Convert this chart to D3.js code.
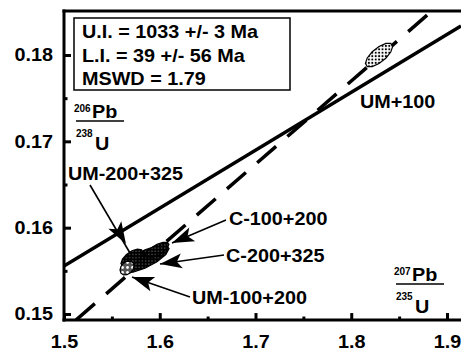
<!DOCTYPE html>
<html>
<head>
<meta charset="utf-8">
<script src="https://cdn.jsdelivr.net/npm/d3@7"></script>
<style>
  body { margin: 0; background: #fff; }
  text { font-family: "Liberation Sans", Arial, Helvetica, sans-serif; font-weight: bold; fill: #000; }
</style>
</head>
<body>
<div id="chart"></div>
<script>
// samples and their isotope ratios
const samples = ["UM+100", "UM-100+200", "UM-200+325", "C-200+325", "C-100+200"];
const pb207u235 = [1.829, 1.5658, 1.571, 1.5846, 1.5971];
const pb206u238 = [0.18, 0.15533, 0.15649, 0.15637, 0.15741];
// error ellipse half sizes and error correlation
const err207 = [0.0142, 0.0073, 0.0115, 0.0251, 0.0125];
const err206 = [0.00139, 0.00081, 0.00104, 0.00162, 0.00093];
const errRho = [0.7, 0.3, 0.6, 0.75, 0.7];

// regression line (solid) and concordia (dashed)
const discordiaX = [1.5, 1.9146];
const discordiaY = [0.15556, 0.18336];
const concordiaX = [1.5125, 1.8843];
const concordiaY = [0.1493, 0.1851];

const xTicks = [1.5, 1.6, 1.7, 1.8, 1.9];
const xMinorTicks = [1.55, 1.65, 1.75, 1.85];
const yTicks = [0.15, 0.16, 0.17, 0.18];
const yMinorTicks = [0.155, 0.165, 0.175];
const xDomain = [1.5, 1.9157];
const yDomain = [0.1493, 0.1851];

const statLines = ["U.I. = 1033 +/- 3 Ma", "L.I. = 39 +/- 56 Ma", "MSWD = 1.79"];

// label / arrow placement, pixel offsets from each ellipse centre
const annotations = {
  "UM+100": { text: [-19, 53] },
  "UM-100+200": { text: [65, 36], tail: [63, 29], tip: [5, 9] },
  "UM-200+325": { text: [-64, -78], tail: [-42, -73], tip: [-2, -5], head: [-6, -14] },
  "C-200+325": { text: [81, 3], tail: [79, -4], tip: [15, 5] },
  "C-100+200": { text: [72, -25], tail: [69, -30], tip: [15, -7] }
};
const fills = {
  "UM+100": "url(#stipple)",
  "UM-100+200": "url(#coarse)",
  "UM-200+325": "url(#dark)",
  "C-200+325": "url(#dark)",
  "C-100+200": "url(#dark)"
};
const drawOrder = [3, 4, 2, 1, 0];

const width = 461, height = 351;
const stretch = 1.1;

const x = d3.scaleLinear().domain([1.5, 1.9]).range([64, 447]);
const y = d3.scaleLinear().domain([0.15, 0.18]).range([314, 55]);

const svg = d3
  .select("#chart")
  .append("svg")
  .attr("width", width)
  .attr("height", height);

const defs = svg.append("defs");
defs
  .append("clipPath")
  .attr("id", "plotArea")
  .append("rect")
  .attr("x", x(xDomain[0]))
  .attr("y", y(yDomain[1]))
  .attr("width", x(xDomain[1]) - x(xDomain[0]))
  .attr("height", y(yDomain[0]) - y(yDomain[1]));

function pattern(id, size, bg, dot, r) {
  const p = defs
    .append("pattern")
    .attr("id", id)
    .attr("patternUnits", "userSpaceOnUse")
    .attr("width", size)
    .attr("height", size);
  p.append("rect").attr("width", size).attr("height", size).attr("fill", bg);
  p.append("circle").attr("cx", size / 2).attr("cy", size / 2).attr("r", r).attr("fill", dot);
  return p;
}
pattern("stipple", 3.4, "#fff", "#000", 1.05);
pattern("dark", 3.2, "#000", "#fff", 0.45);
pattern("coarse", 5, "#555", "#fff", 1.4);

function addText(sel, px, py, str, size, sx = stretch) {
  return sel
    .append("text")
    .attr("transform", `translate(${px},${py}) scale(${sx},1)`)
    .style("font-size", size + "px")
    .text(str);
}

// lines
const plot = svg.append("g").attr("clip-path", "url(#plotArea)");
const lineGen = d3.line().x((d) => x(d[0])).y((d) => y(d[1]));

plot
  .append("path")
  .datum(d3.zip(discordiaX, discordiaY))
  .attr("d", lineGen)
  .attr("fill", "none")
  .attr("stroke", "#000")
  .attr("stroke-width", 3.5);

plot
  .append("path")
  .datum(d3.zip(concordiaX, concordiaY))
  .attr("d", lineGen)
  .attr("fill", "none")
  .attr("stroke", "#000")
  .attr("stroke-width", 3.5)
  .attr("stroke-dasharray", "25,15");

// error ellipses
function ellipsePoints(i, n = 12) {
  const r = errRho[i];
  const s = Math.sqrt(1 - r * r);
  return d3.range(n).map((k) => {
    const t = (k / n) * 2 * Math.PI;
    return [
      pb207u235[i] + err207[i] * Math.cos(t),
      pb206u238[i] + err206[i] * (r * Math.cos(t) + s * Math.sin(t))
    ];
  });
}
const closedLine = d3.line().x((d) => x(d[0])).y((d) => y(d[1])).curve(d3.curveLinearClosed);

plot
  .selectAll(".ellipse")
  .data(drawOrder)
  .join("path")
  .attr("class", "ellipse")
  .attr("d", (i) => closedLine(ellipsePoints(i)))
  .attr("fill", (i) => fills[samples[i]])
  .attr("stroke", "#000")
  .attr("stroke-width", 1.2);

// axes frame
const frame = svg.append("g").attr("stroke", "#000").attr("stroke-width", 3);
const plotLeft = x(xDomain[0]), plotRight = x(xDomain[1]);
const plotTop = y(yDomain[1]), plotBottom = y(yDomain[0]);
frame.append("line").attr("x1", plotLeft).attr("x2", plotLeft).attr("y1", plotTop - 1.5).attr("y2", plotBottom + 1.5);
frame.append("line").attr("x1", plotLeft - 1.5).attr("x2", plotRight).attr("y1", plotBottom).attr("y2", plotBottom);
frame.append("line").attr("x1", plotLeft - 1.5).attr("x2", plotRight).attr("y1", plotTop).attr("y2", plotTop);

function styleAxis(g) {
  g.select(".domain").remove();
  g.selectAll(".tick line").attr("stroke", "#000").attr("stroke-width", 3);
  g.attr("font-size", null).attr("font-family", null);
}

const yAxis = svg
  .append("g")
  .attr("transform", `translate(${plotLeft},0)`)
  .call(d3.axisLeft(y).tickValues(yTicks).tickSize(-7).tickPadding(11).tickFormat(d3.format(".2f")))
  .call(styleAxis);
yAxis
  .selectAll(".tick text")
  .attr("x", null)
  .attr("transform", `translate(-11,0) scale(${stretch},1)`)
  .style("font-size", "18px");

svg
  .append("g")
  .attr("transform", `translate(${plotLeft},0)`)
  .call(d3.axisLeft(y).tickValues(yMinorTicks).tickSize(-3.5).tickFormat(""))
  .call(styleAxis);

const xAxis = svg
  .append("g")
  .attr("transform", `translate(0,${plotBottom})`)
  .call(d3.axisBottom(x).tickValues(xTicks).tickSize(-7).tickPadding(15).tickFormat(d3.format(".1f")))
  .call(styleAxis);
xAxis
  .selectAll(".tick text")
  .attr("y", null)
  .attr("transform", `translate(0,15) scale(${stretch},1)`)
  .style("font-size", "18px");

svg
  .append("g")
  .attr("transform", `translate(0,${plotBottom})`)
  .call(d3.axisBottom(x).tickValues(xMinorTicks).tickSize(-3.5).tickFormat(""))
  .call(styleAxis);

// statistics box
svg
  .append("rect")
  .attr("x", 74)
  .attr("y", 18)
  .attr("width", 216)
  .attr("height", 72)
  .attr("fill", "#fff")
  .attr("stroke", "#000")
  .attr("stroke-width", 1.5);
statLines.forEach((s, i) => addText(svg, 82, 38 + i * 23.5, s, 18));

// axis ratio titles
function ratioLabel(px, py, sup1, el1, sup2, el2) {
  const g = svg.append("g").attr("transform", `translate(${px},${py})`);
  addText(g, 0, -6, sup1, 10, 1);
  addText(g, 18, 0, el1, 18);
  g.append("line").attr("x1", 2).attr("x2", 50).attr("y1", 3).attr("y2", 3)
    .attr("stroke", "#000").attr("stroke-width", 1.6);
  addText(g, 2, 19, sup2, 10, 1);
  addText(g, 21, 32, el2, 18);
}
ratioLabel(74, 118, "206", "Pb", "238", "U");
ratioLabel(394, 281, "207", "Pb", "235", "U");

// sample labels and arrows
const ann = svg.append("g");
samples.forEach((name, i) => {
  const a = annotations[name];
  const cx = x(pb207u235[i]);
  const cy = y(pb206u238[i]);
  addText(ann, cx + a.text[0], cy + a.text[1], name, 18);
  if (!a.tail) return;
  const t0 = [cx + a.tail[0], cy + a.tail[1]];
  const t1 = [cx + a.tip[0], cy + a.tip[1]];
  ann.append("line")
    .attr("x1", t0[0]).attr("y1", t0[1]).attr("x2", t1[0]).attr("y2", t1[1])
    .attr("stroke", "#000").attr("stroke-width", 1.6);
  const h = a.head ? [cx + a.head[0], cy + a.head[1]] : t1;
  const len = Math.hypot(t1[0] - t0[0], t1[1] - t0[1]);
  const ux = (t1[0] - t0[0]) / len, uy = (t1[1] - t0[1]) / len;
  const hl = 22, hw = 7.5;
  const bx = h[0] - ux * hl, by = h[1] - uy * hl;
  ann.append("path")
    .attr("d", `M${h[0]},${h[1]}L${bx - uy * hw},${by + ux * hw}L${bx + ux * 5},${by + uy * 5}L${bx + uy * hw},${by - ux * hw}Z`)
    .attr("fill", "#000");
});
</script>
</body>
</html>
